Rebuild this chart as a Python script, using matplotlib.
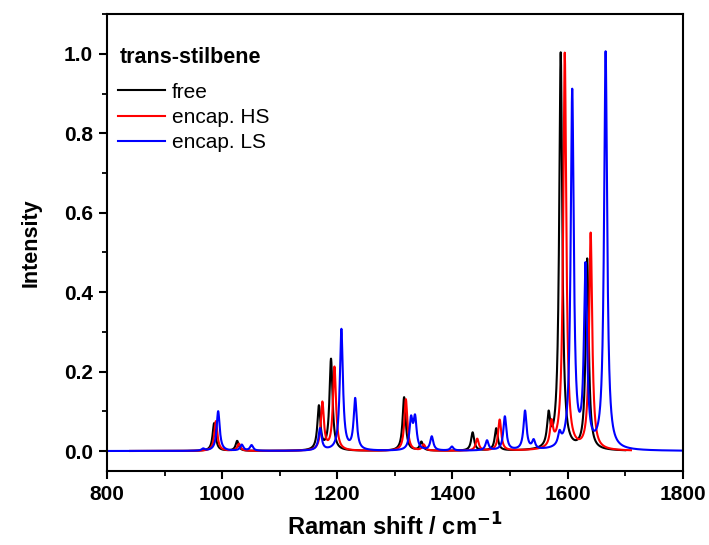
import matplotlib
matplotlib.use('Agg')
import matplotlib.pyplot as plt
import numpy as np
from matplotlib.ticker import MultipleLocator, FormatStrFormatter

plt.rcParams['font.family'] = ['Liberation Sans', 'DejaVu Sans']

# peak lists (position cm-1, relative height)
free_pos = [986, 1026, 1168, 1189, 1316, 1346, 1435, 1476, 1567, 1588, 1634]
free_amp = [0.07, 0.025, 0.11, 0.23, 0.135, 0.022, 0.046, 0.056, 0.078, 1.0, 0.48]

hs_pos = [989, 1029, 1174, 1195, 1319, 1350, 1443, 1482, 1572, 1595, 1640]
hs_amp = [0.075, 0.018, 0.12, 0.21, 0.13, 0.015, 0.03, 0.078, 0.06, 1.0, 0.545]

ls_pos = [967, 993, 1034, 1051, 1170, 1207, 1231, 1328, 1335, 1364, 1399,
          1460, 1491, 1526, 1541, 1586, 1608, 1631, 1666]
ls_amp = [0.005, 0.1, 0.015, 0.014, 0.055, 0.305, 0.128, 0.075, 0.078, 0.035,
          0.01, 0.025, 0.085, 0.098, 0.022, 0.03, 0.9, 0.45, 1.0]

hwhm = 3.2


def spectrum(x, pos, amp):
    y = np.zeros_like(x)
    for p, a in zip(pos, amp):
        y += a * hwhm**2 / ((x - p)**2 + hwhm**2)
    return y


fig = plt.figure(figsize=(7.09, 5.45), dpi=100)
ax = fig.add_axes([0.151, 0.136, 0.812, 0.838])

x_free = np.linspace(840, 1700, 4000)
x_hs = np.linspace(840, 1710, 4000)
x_ls = np.linspace(800, 1800, 5000)

ax.plot(x_free, spectrum(x_free, free_pos, free_amp), color='black', lw=1.5, label='free')
ax.plot(x_hs, spectrum(x_hs, hs_pos, hs_amp), color='#ff0000', lw=1.5, label='encap. HS')
ax.plot(x_ls, spectrum(x_ls, ls_pos, ls_amp), color='#0000ff', lw=1.5, label='encap. LS')

ax.set_xlim(800, 1800)
ax.set_ylim(-0.05, 1.10)
ax.xaxis.set_major_locator(MultipleLocator(200))
ax.xaxis.set_minor_locator(MultipleLocator(100))
ax.yaxis.set_major_locator(MultipleLocator(0.2))
ax.yaxis.set_minor_locator(MultipleLocator(0.1))
ax.yaxis.set_major_formatter(FormatStrFormatter('%.1f'))
ax.tick_params(which='major', direction='out', length=6, width=1.5, labelsize=15, pad=4)
ax.tick_params(which='minor', direction='out', length=3.5, width=1.3)
for lab in ax.get_xticklabels() + ax.get_yticklabels():
    lab.set_fontweight('bold')
for s in ax.spines.values():
    s.set_linewidth(1.5)

ax.set_xlabel('Raman shift / cm$^{\\mathbf{-1}}$', fontsize=17, fontweight='bold', labelpad=7)
ax.set_ylabel('Intensity', fontsize=15.5, fontweight='bold', labelpad=16)

ax.text(0.0226, 0.906, 'trans-stilbene', transform=ax.transAxes, fontsize=15.5,
        fontweight='bold', va='center', ha='left')
leg = ax.legend(loc='upper left', frameon=False,
                fontsize=15, handlelength=2.25, handletextpad=0.35,
                labelspacing=0.3, borderaxespad=0.0, borderpad=0.0,
                bbox_to_anchor=(0.019, 0.85))

fig.savefig('out.png', dpi=100)
